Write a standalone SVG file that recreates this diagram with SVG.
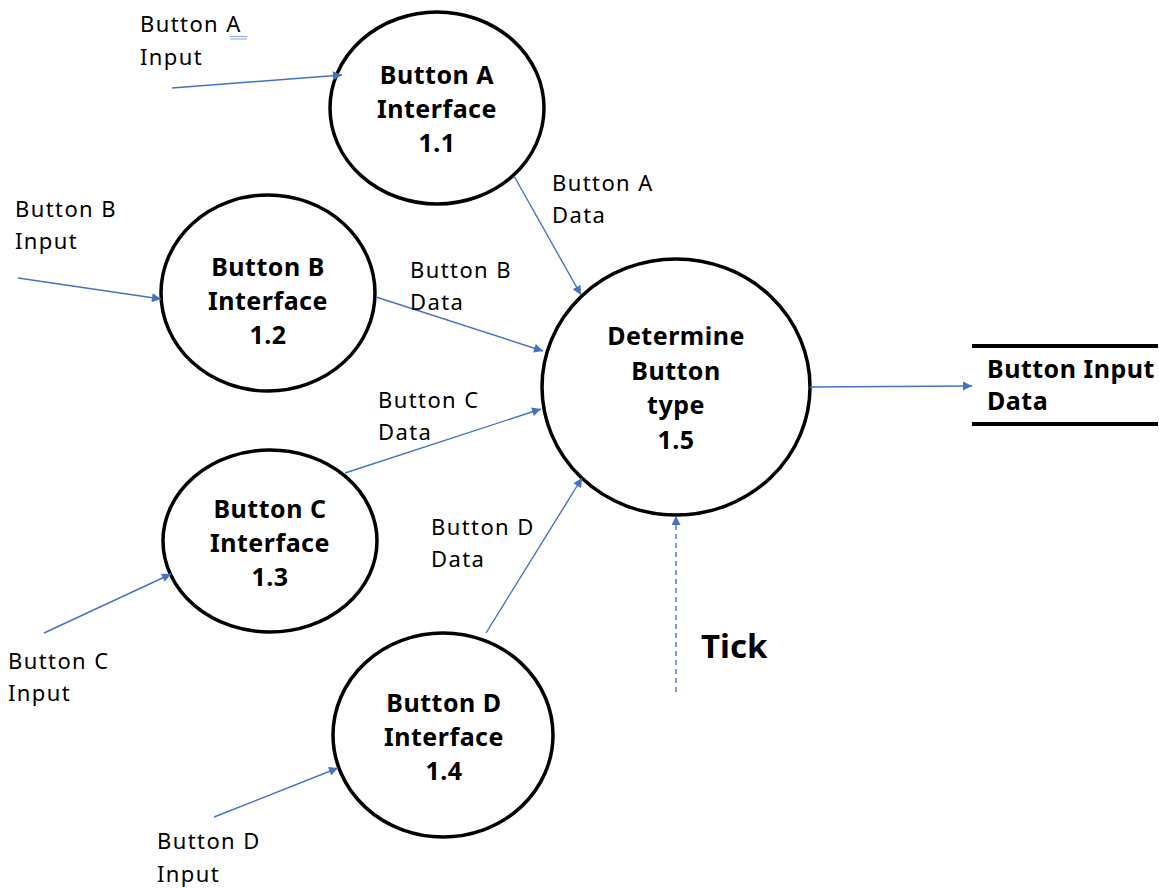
<svg xmlns="http://www.w3.org/2000/svg" width="1159" height="888" viewBox="0 0 1159 888">
<defs>
<marker id="ah" viewBox="0 0 10 10" refX="10" refY="5" markerWidth="11" markerHeight="9" markerUnits="userSpaceOnUse" orient="auto">
<path d="M0,0 L10,5 L0,10 Z" fill="#4472C4"/>
</marker>
<style>
.proc{fill:#fff;stroke:#000;stroke-width:3.5}
.nt{font-family:"Noto Sans","Liberation Sans",sans-serif;font-weight:bold;font-size:25px;fill:#000;text-anchor:middle;letter-spacing:0.5px}
.lb{font-family:"Noto Sans","Liberation Sans",sans-serif;font-size:22px;fill:#000;letter-spacing:1.4px}
.cn{stroke:#4472C4;stroke-width:1.4;fill:none;marker-end:url(#ah)}
.store{stroke:#000;stroke-width:4}
</style>
</defs>
<rect width="1159" height="888" fill="#fff"/>
<g id="n11">
<ellipse class="proc" cx="437" cy="108" rx="107" ry="96"/>
<text class="nt" x="437" y="84">Button A</text>
<text class="nt" x="437" y="118">Interface</text>
<text class="nt" x="437" y="152">1.1</text>
</g>
<g id="n12">
<ellipse class="proc" cx="268" cy="293" rx="107" ry="98"/>
<text class="nt" x="268" y="276">Button B</text>
<text class="nt" x="268" y="310">Interface</text>
<text class="nt" x="268" y="344">1.2</text>
</g>
<g id="n13">
<ellipse class="proc" cx="270" cy="541" rx="107" ry="91"/>
<text class="nt" x="270" y="518">Button C</text>
<text class="nt" x="270" y="552">Interface</text>
<text class="nt" x="270" y="586">1.3</text>
</g>
<g id="n14">
<ellipse class="proc" cx="443" cy="735" rx="110" ry="102"/>
<text class="nt" x="444" y="712">Button D</text>
<text class="nt" x="444" y="746">Interface</text>
<text class="nt" x="444" y="780">1.4</text>
</g>
<g id="n15">
<ellipse class="proc" cx="676" cy="387" rx="134" ry="128"/>
<text class="nt" x="676" y="345">Determine</text>
<text class="nt" x="676" y="380">Button</text>
<text class="nt" x="676" y="414">type</text>
<text class="nt" x="676" y="449">1.5</text>
</g>
<g id="store">
<line class="store" x1="972" y1="346" x2="1158" y2="346"/>
<line class="store" x1="972" y1="424" x2="1158" y2="424"/>
<text class="nt" x="987" y="378" style="text-anchor:start">Button Input</text>
<text class="nt" x="987" y="410" style="text-anchor:start">Data</text>
</g>
<g id="connectors">
<line class="cn" x1="172" y1="88" x2="342" y2="75"/>
<line class="cn" x1="18" y1="278" x2="161" y2="299"/>
<line class="cn" x1="44" y1="633" x2="171" y2="574"/>
<line class="cn" x1="214" y1="817" x2="338" y2="768"/>
<line class="cn" x1="514" y1="176" x2="581" y2="295"/>
<line class="cn" x1="376" y1="297" x2="543" y2="351"/>
<line class="cn" x1="345" y1="473" x2="541" y2="409"/>
<line class="cn" x1="486" y1="633" x2="582" y2="478"/>
<line class="cn" x1="810" y1="387" x2="972" y2="386"/>
<line class="cn" x1="676" y1="692" x2="676" y2="516" stroke-dasharray="5,4"/>
</g>
<g id="labels">
<text class="lb" x="140" y="32">Button A</text>
<text class="lb" x="140" y="65">Input</text>
<line x1="230" y1="36.5" x2="247" y2="36.5" stroke="#8fa8d8" stroke-width="1"/>
<line x1="230" y1="39" x2="247" y2="39" stroke="#8fa8d8" stroke-width="1"/>
<text class="lb" x="15" y="217">Button B</text>
<text class="lb" x="15" y="249">Input</text>
<text class="lb" x="8" y="669">Button C</text>
<text class="lb" x="8" y="701">Input</text>
<text class="lb" x="157" y="849">Button D</text>
<text class="lb" x="157" y="882">Input</text>
<text class="lb" x="552" y="191">Button A</text>
<text class="lb" x="552" y="223">Data</text>
<text class="lb" x="410" y="278">Button B</text>
<text class="lb" x="410" y="310">Data</text>
<text class="lb" x="378" y="408">Button C</text>
<text class="lb" x="378" y="440">Data</text>
<text class="lb" x="431" y="535">Button D</text>
<text class="lb" x="431" y="567">Data</text>
<text x="701" y="658" font-family="Noto Sans, Liberation Sans, sans-serif" font-weight="bold" font-size="33">Tick</text>
</g>
</svg>
